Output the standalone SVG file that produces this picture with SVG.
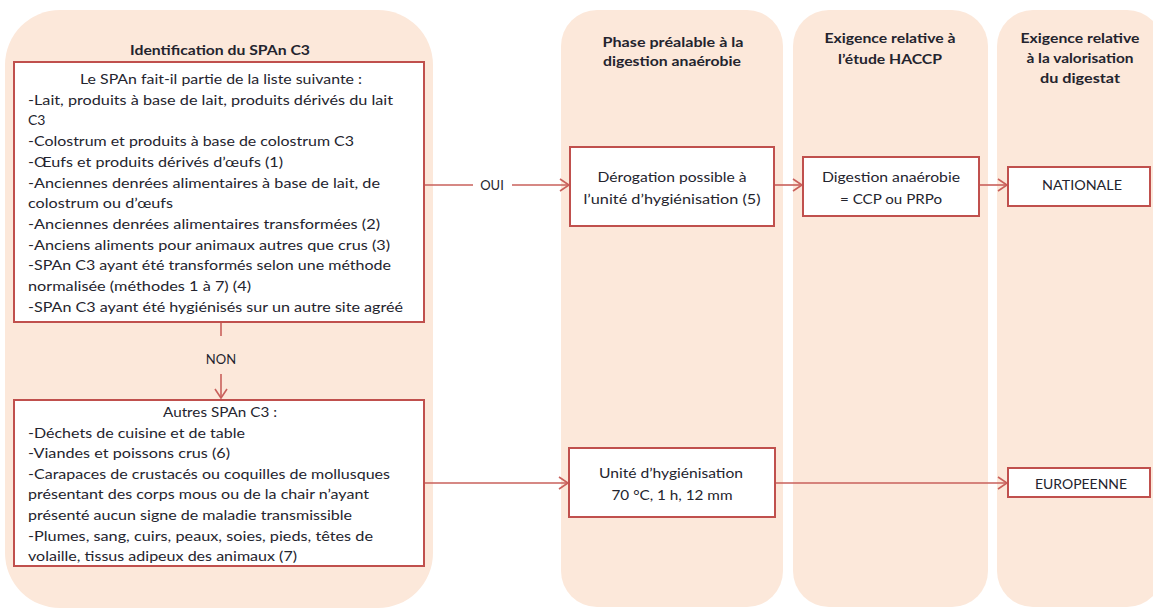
<svg xmlns="http://www.w3.org/2000/svg" width="1153" height="608" viewBox="0 0 1153 608">
<style>
.panel{fill:#fce8da;stroke:none}
.box{fill:#ffffff;stroke:#c0504d;stroke-width:2}
.t{font-family:Lato,"Liberation Sans",sans-serif;font-size:14px;fill:#24242e}
.b{font-weight:bold}
.m{text-anchor:middle}
.c{fill:none;stroke:#c9605b;stroke-width:1.6}
.lbl{font-family:Lato,"Liberation Sans",sans-serif;font-size:13px;fill:#24242e;text-anchor:middle}
</style>
<defs>
<marker id="arr" markerWidth="12" markerHeight="14" refX="10" refY="7" orient="auto" markerUnits="userSpaceOnUse">
<path d="M1,1 L10,7 L1,13" fill="none" stroke="#c9605b" stroke-width="1.6"/>
</marker>
</defs>

<g id="panels">
<rect class="panel" x="5" y="10" width="428" height="598" rx="55" ry="55"/>
<rect class="panel" x="561" y="10" width="222" height="597" rx="36" ry="36"/>
<rect class="panel" x="793" y="10" width="195" height="597" rx="36" ry="36"/>
<rect class="panel" x="997" y="10" width="166" height="597" rx="36" ry="36"/>
</g>

<g id="titles">
<text class="t b m" x="220" y="55" textLength="180" lengthAdjust="spacingAndGlyphs">Identification du SPAn C3</text>
<text class="t b m" x="673" y="47" textLength="141" lengthAdjust="spacingAndGlyphs">Phase préalable à la</text>
<text class="t b m" x="672" y="66" textLength="138" lengthAdjust="spacingAndGlyphs">digestion anaérobie</text>
<text class="t b m" x="890" y="43" textLength="131" lengthAdjust="spacingAndGlyphs">Exigence relative à</text>
<text class="t b m" x="890" y="64" textLength="104" lengthAdjust="spacingAndGlyphs">l’étude HACCP</text>
<text class="t b m" x="1080" y="43" textLength="119" lengthAdjust="spacingAndGlyphs">Exigence relative</text>
<text class="t b m" x="1080" y="63" textLength="107" lengthAdjust="spacingAndGlyphs">à la valorisation</text>
<text class="t b m" x="1080" y="83" textLength="80" lengthAdjust="spacingAndGlyphs">du digestat</text>
</g>

<g id="connectors">
<line class="c" x1="423" y1="185" x2="473" y2="185"/>
<line class="c" x1="512" y1="185" x2="569" y2="185" marker-end="url(#arr)"/>
<text class="lbl" x="492" y="190">OUI</text>
<line class="c" x1="221" y1="322" x2="221" y2="336"/>
<line class="c" x1="221" y1="374" x2="221" y2="398" marker-end="url(#arr)"/>
<text class="lbl" x="221" y="364">NON</text>
<line class="c" x1="774" y1="185" x2="802" y2="185" marker-end="url(#arr)"/>
<line class="c" x1="979" y1="185" x2="1007" y2="185" marker-end="url(#arr)"/>
<line class="c" x1="424" y1="483" x2="568" y2="483" marker-end="url(#arr)"/>
<line class="c" x1="775" y1="483" x2="1007" y2="483" marker-end="url(#arr)"/>
</g>

<g id="node-liste">
<rect class="box" x="14" y="62" width="410" height="260"/>
<text class="t m" x="221" y="84" textLength="282" lengthAdjust="spacingAndGlyphs">Le SPAn fait-il partie de la liste suivante :</text>
<text class="t" x="28" y="104.7" textLength="365" lengthAdjust="spacingAndGlyphs">-Lait, produits à base de lait, produits dérivés du lait</text>
<text class="t" x="28" y="125.4">C3</text>
<text class="t" x="28" y="146.1" textLength="326" lengthAdjust="spacingAndGlyphs">-Colostrum et produits à base de colostrum C3</text>
<text class="t" x="28" y="166.8" textLength="255" lengthAdjust="spacingAndGlyphs">-Œufs et produits dérivés d’œufs (1)</text>
<text class="t" x="28" y="187.5" textLength="352" lengthAdjust="spacingAndGlyphs">-Anciennes denrées alimentaires à base de lait, de</text>
<text class="t" x="28" y="208.2" textLength="145" lengthAdjust="spacingAndGlyphs">colostrum ou d’œufs</text>
<text class="t" x="28" y="228.9" textLength="352" lengthAdjust="spacingAndGlyphs">-Anciennes denrées alimentaires transformées (2)</text>
<text class="t" x="28" y="249.6" textLength="362" lengthAdjust="spacingAndGlyphs">-Anciens aliments pour animaux autres que crus (3)</text>
<text class="t" x="28" y="270.3" textLength="363" lengthAdjust="spacingAndGlyphs">-SPAn C3 ayant été transformés selon une méthode</text>
<text class="t" x="28" y="291" textLength="223" lengthAdjust="spacingAndGlyphs">normalisée (méthodes 1 à 7) (4)</text>
<text class="t" x="28" y="311.7" textLength="375" lengthAdjust="spacingAndGlyphs">-SPAn C3 ayant été hygiénisés sur un autre site agréé</text>
</g>

<g id="node-autres">
<rect class="box" x="14" y="400" width="410" height="166"/>
<text class="t m" x="220" y="417" textLength="114" lengthAdjust="spacingAndGlyphs">Autres SPAn C3 :</text>
<text class="t" x="28" y="437.6" textLength="217" lengthAdjust="spacingAndGlyphs">-Déchets de cuisine et de table</text>
<text class="t" x="28" y="458.2" textLength="202" lengthAdjust="spacingAndGlyphs">-Viandes et poissons crus (6)</text>
<text class="t" x="28" y="478.8" textLength="362" lengthAdjust="spacingAndGlyphs">-Carapaces de crustacés ou coquilles de mollusques</text>
<text class="t" x="28" y="499.4" textLength="341" lengthAdjust="spacingAndGlyphs">présentant des corps mous ou de la chair n’ayant</text>
<text class="t" x="28" y="520" textLength="324" lengthAdjust="spacingAndGlyphs">présenté aucun signe de maladie transmissible</text>
<text class="t" x="28" y="540.6" textLength="345" lengthAdjust="spacingAndGlyphs">-Plumes, sang, cuirs, peaux, soies, pieds, têtes de</text>
<text class="t" x="28" y="561.2" textLength="269" lengthAdjust="spacingAndGlyphs">volaille, tissus adipeux des animaux (7)</text>
</g>

<g id="node-derogation">
<rect class="box" x="570" y="147" width="204" height="79"/>
<text class="t m" x="672" y="182" textLength="149" lengthAdjust="spacingAndGlyphs">Dérogation possible à</text>
<text class="t m" x="672" y="204" textLength="177" lengthAdjust="spacingAndGlyphs">l’unité d’hygiénisation  (5)</text>
</g>

<g id="node-digestion">
<rect class="box" x="803" y="157" width="176" height="59"/>
<text class="t m" x="891" y="182" textLength="138" lengthAdjust="spacingAndGlyphs">Digestion anaérobie</text>
<text class="t m" x="891" y="204" textLength="102" lengthAdjust="spacingAndGlyphs">= CCP ou PRPo</text>
</g>

<g id="node-nationale">
<rect class="box" x="1008" y="167" width="142" height="39"/>
<text class="t m" x="1082" y="190" textLength="80" lengthAdjust="spacingAndGlyphs">NATIONALE</text>
</g>

<g id="node-unite">
<rect class="box" x="569" y="448" width="206" height="69"/>
<text class="t m" x="671" y="478" textLength="144" lengthAdjust="spacingAndGlyphs">Unité d’hygiénisation</text>
<text class="t m" x="672" y="500" textLength="121" lengthAdjust="spacingAndGlyphs">70 °C, 1 h, 12 mm</text>
</g>

<g id="node-europeenne">
<rect class="box" x="1008" y="468" width="142" height="29"/>
<text class="t m" x="1081" y="489" textLength="92" lengthAdjust="spacingAndGlyphs">EUROPEENNE</text>
</g>
</svg>
